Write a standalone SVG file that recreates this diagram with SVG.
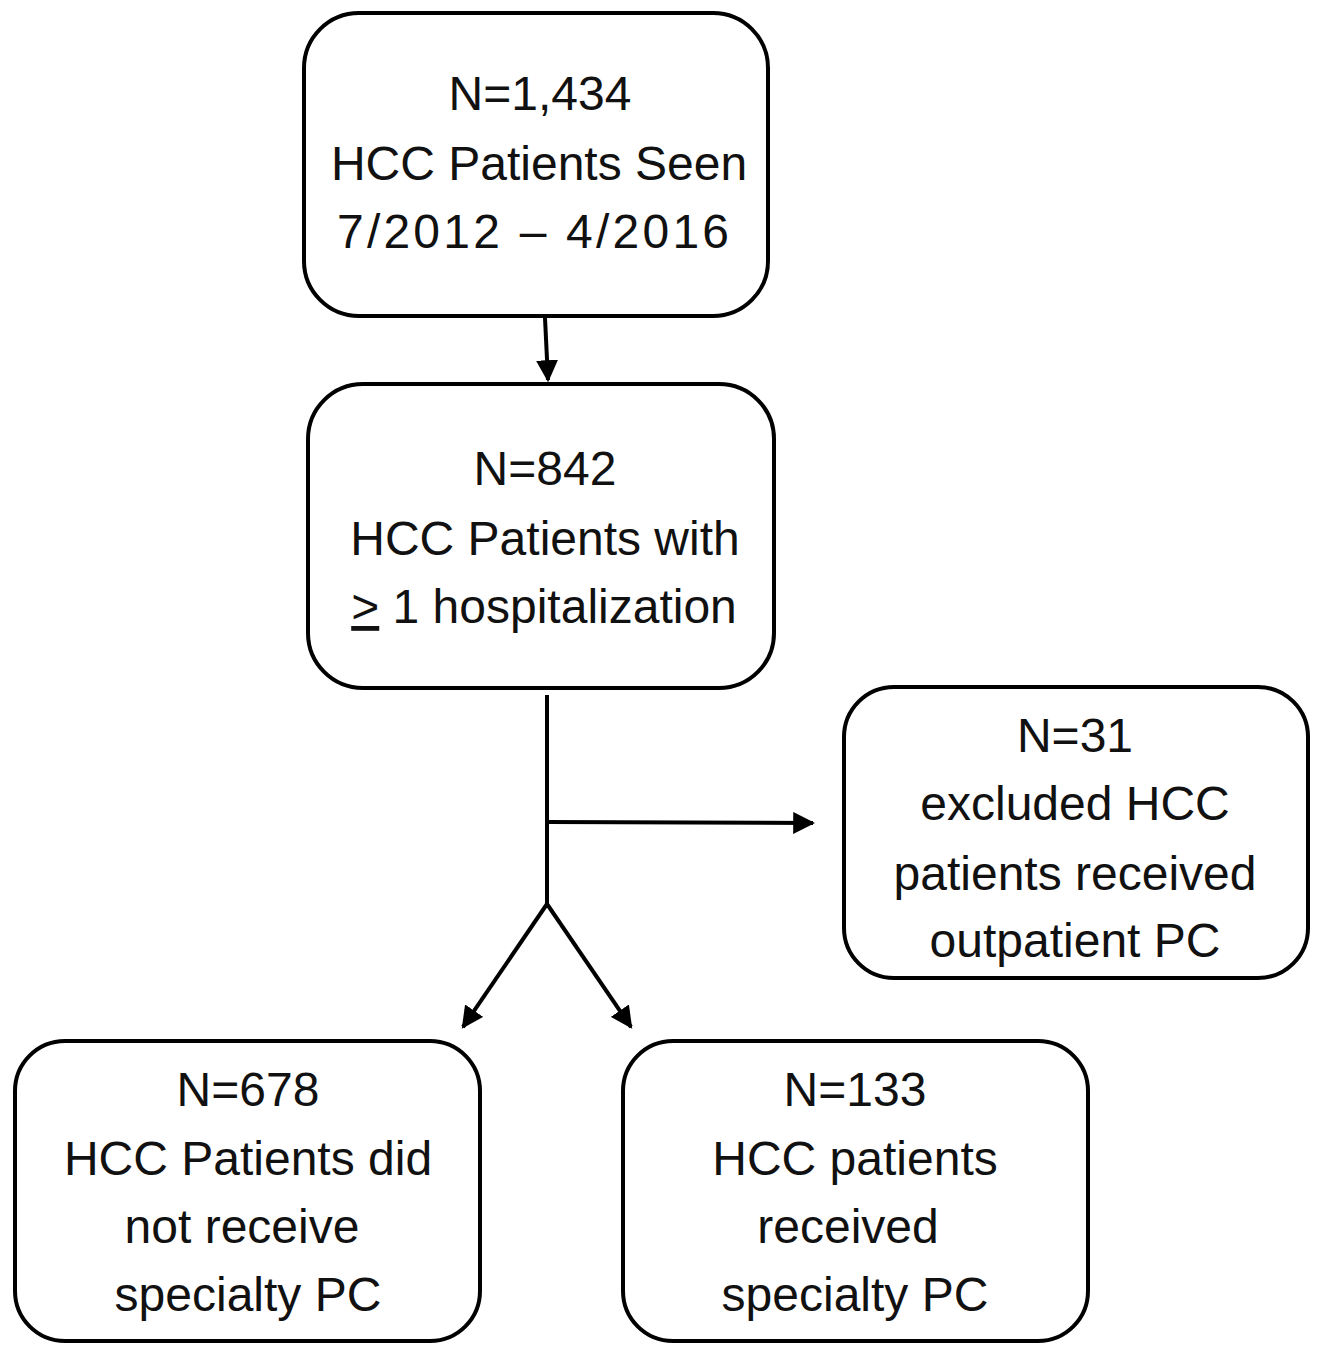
<svg xmlns="http://www.w3.org/2000/svg" width="1320" height="1345" viewBox="0 0 1320 1345">
<defs>
<style>
.box{fill:#fff;stroke:#000;stroke-width:4}
.t{font-family:"Liberation Sans",Arial,sans-serif;font-size:48px;fill:#111;text-anchor:middle}
.c{stroke:#000;stroke-width:4;fill:none}
</style>
<marker id="ah" viewBox="0 0 10 10" refX="9" refY="5" markerWidth="5.5" markerHeight="5.5" orient="auto" markerUnits="strokeWidth">
<path d="M0,0 L10,5 L0,10 Z" fill="#000"/>
</marker>
</defs>
<rect width="1320" height="1345" fill="#fff"/>
<g id="n1">
<rect class="box" x="304" y="13" width="464" height="303" rx="55"/>
<text class="t" x="540" y="110">N=1,434</text>
<text class="t" x="539" y="180">HCC Patients Seen</text>
<text class="t" x="533" y="248" textLength="392" lengthAdjust="spacing">7/2012 – 4/2016</text>
</g>
<g id="n2">
<rect class="box" x="308" y="384" width="466" height="304" rx="55"/>
<text class="t" x="545" y="485">N=842</text>
<text class="t" x="545" y="555">HCC Patients with</text>
<text class="t" x="544" y="623"><tspan text-decoration="underline">&gt;</tspan> 1 hospitalization</text>
</g>
<g id="n3">
<rect class="box" x="844" y="687" width="464" height="291" rx="50"/>
<text class="t" x="1075" y="752">N=31</text>
<text class="t" x="1075" y="820">excluded HCC</text>
<text class="t" x="1075" y="890">patients received</text>
<text class="t" x="1075" y="957">outpatient PC</text>
</g>
<g id="n4">
<rect class="box" x="15" y="1041" width="465" height="300" rx="50"/>
<text class="t" x="248" y="1106">N=678</text>
<text class="t" x="248" y="1175">HCC Patients did</text>
<text class="t" x="242" y="1243">not receive</text>
<text class="t" x="248" y="1311">specialty PC</text>
</g>
<g id="n5">
<rect class="box" x="623" y="1041" width="465" height="300" rx="50"/>
<text class="t" x="855" y="1106">N=133</text>
<text class="t" x="855" y="1175">HCC patients</text>
<text class="t" x="848" y="1243">received</text>
<text class="t" x="855" y="1311">specialty PC</text>
</g>
<g id="connectors">
<line class="c" x1="545" y1="318" x2="548" y2="380" marker-end="url(#ah)"/>
<line class="c" x1="547" y1="695" x2="547" y2="905"/>
<line class="c" x1="547" y1="822" x2="813" y2="823" marker-end="url(#ah)"/>
<line class="c" x1="547" y1="904" x2="463" y2="1027" marker-end="url(#ah)"/>
<line class="c" x1="547" y1="904" x2="631" y2="1027" marker-end="url(#ah)"/>
</g>
</svg>
